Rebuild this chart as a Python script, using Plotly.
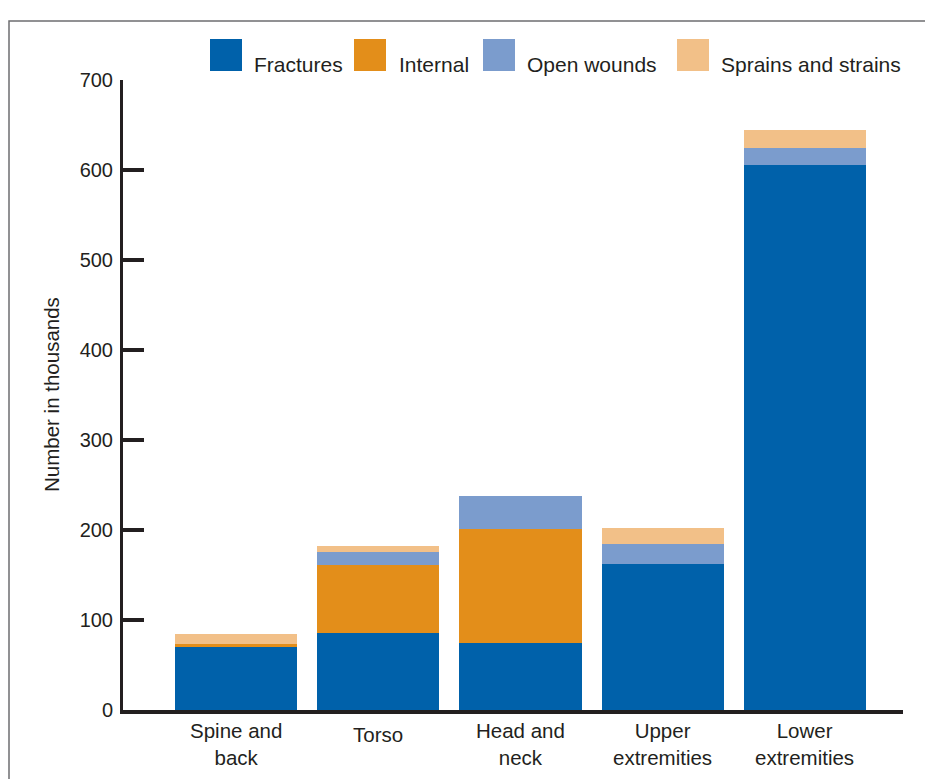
import plotly.graph_objects as go

categories = ["Spine and\nback", "Torso", "Head and\nneck", "Upper\nextremities", "Lower\nextremities"]
fractures = [70, 86, 74, 162, 606]
internal = [3, 75, 127, 0, 0]
open_wounds = [0, 15, 37, 22, 19]
sprains = [11, 6, 0, 18, 20]
series_names = ["Fractures", "Internal", "Open wounds", "Sprains and strains"]
series_colors = ["#0061AA", "#E38E1A", "#7B9CCD", "#F2C088"]
y_ticks = [0, 100, 200, 300, 400, 500, 600, 700]

OFF = 8  # page body margin
W, H = 925, 771
L, R, T, B = 115, 30, 72, 69
PW, PH = W - L - R, H - T - B

def px_x(p):
    return (p - OFF - L) / PW

def px_y(p):
    return (H - B - (p - OFF)) / PH

TXT = "#231f20"
FONT = "Liberation Sans, Arial, sans-serif"

fig = go.Figure()
cat_keys = [c.replace("\n", " ") for c in categories]
for name, vals, col in zip(series_names, [fractures, internal, open_wounds, sprains], series_colors):
    fig.add_trace(go.Bar(x=cat_keys, y=vals, name=name, marker=dict(color=col, line=dict(width=0)),
                         showlegend=False))

fig.update_layout(
    width=W, height=H, barmode="stack", bargap=0.142,
    margin=dict(l=L, r=R, t=T, b=B, autoexpand=False),
    plot_bgcolor="white", paper_bgcolor="white",
    font=dict(family=FONT, color=TXT),
)
fig.update_xaxes(range=[-0.794, 4.689], showticklabels=False, ticks="", showline=True,
                 linewidth=4, linecolor=TXT, showgrid=False, zeroline=False, fixedrange=True)
fig.update_yaxes(range=[0, 700], tickvals=y_ticks, ticks="inside", ticklen=21, tickwidth=4,
                 tickcolor=TXT, showline=True, linewidth=3, linecolor=TXT, showgrid=False,
                 zeroline=False, tickfont=dict(size=20, color=TXT, family=FONT),
                 ticklabelstandoff=3)

# frame
fig.add_shape(type="rect", xref="paper", yref="paper",
              x0=px_x(9), x1=px_x(945), y0=px_y(795), y1=px_y(21),
              line=dict(color="#6d6e70", width=1.5), layer="below")

# y axis title
fig.add_annotation(text="Number in thousands", xref="paper", yref="paper",
                   x=px_x(51), y=px_y(395), xanchor="center", yanchor="middle",
                   textangle=-90, showarrow=False,
                   font=dict(size=20.5, color=TXT, family=FONT))

# category labels
for key, cat in zip(cat_keys, categories):
    n = len(cat.split("\n"))
    fig.add_annotation(text=cat.replace("\n", "<br>"), xref="x", yref="paper", x=key,
                       xanchor="center", y=px_y(734 if n == 1 else 744), yanchor="middle",
                       showarrow=False, font=dict(size=20.5, color=TXT, family=FONT))

# legend
box_x = [210, 354, 483, 677]
text_x = [252, 397, 525, 719]
for bx, tx, name, col in zip(box_x, text_x, series_names, series_colors):
    fig.add_shape(type="rect", xref="paper", yref="paper",
                  x0=px_x(bx), x1=px_x(bx + 32), y0=px_y(71), y1=px_y(39),
                  fillcolor=col, line=dict(width=0))
    fig.add_annotation(text=name, xref="paper", yref="paper", x=px_x(tx), y=px_y(64.5),
                       xanchor="left", yanchor="middle", showarrow=False,
                       font=dict(size=21, color=TXT, family=FONT))

fig.write_html("out.html")
